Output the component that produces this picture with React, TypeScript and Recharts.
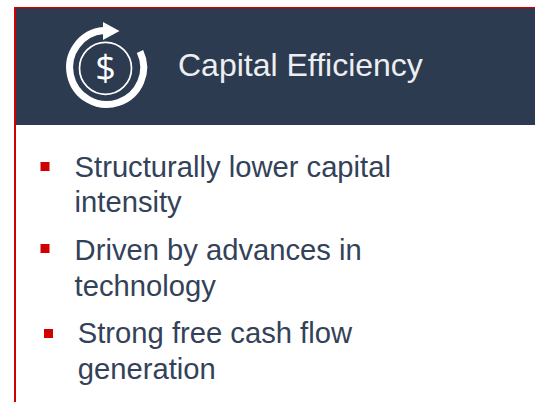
import React from "react";
import { Surface, Layer, Rectangle } from "recharts";

const titleText = "Capital Efficiency";
const iconGlyph = "$";
const bulletLines: string[][] = [
  ["Structurally lower capital", "intensity"],
  ["Driven by advances in", "technology"],
  ["Strong free cash flow", "generation"],
];

const NAVY = "#2c3b50";
const RED = "#d00000";
const INK = "#334258";
const FONT = "'Liberation Sans', Arial, sans-serif";

const bulletLayout = [
  { sq: [40.5, 162], tx: 74.6, base: [177, 212] },
  { sq: [40.5, 244], tx: 74.6, base: [260, 296] },
  { sq: [44, 329], tx: 77.8, base: [343, 379] },
];

export default function App() {
  return (
    <div style={{ position: "absolute", left: 0, top: 0, width: 535, height: 402, background: "#fff" }}>
      <Surface width={535} height={402} viewBox={{ x: 0, y: 0, width: 535, height: 402 }}>
        <Layer>
          <Rectangle x={15} y={8} width={520} height={117} fill={NAVY} />
          <Rectangle x={14} y={7} width={521} height={1.2} fill={RED} />
          <Rectangle x={14} y={7} width={2} height={395} fill={RED} />
        </Layer>
        <Layer>
          <path d="M 140 51.5 A 37 37 0 1 1 103.5 30.6" fill="none" stroke="#fff" strokeWidth={7} />
          <polygon points="103,22 119.5,31 103,40" fill="#fff" />
          <circle cx={105.5} cy={68.3} r={26} fill="none" stroke="#fff" strokeWidth={1.7} />
          <text x={105.5} y={81} textAnchor="middle" fill="#fff" fontSize={36} fontFamily="'Open Sans', sans-serif" fontWeight={400} style={{ textRendering: "geometricPrecision" }}>
            {iconGlyph}
          </text>
        </Layer>
        <text x={178} y={76} fill="#eceef1" fontSize={32} fontFamily={FONT}>
          {titleText}
        </text>
        {bulletLines.map((lines, i) => (
          <Layer key={i}>
            <Rectangle x={bulletLayout[i].sq[0]} y={bulletLayout[i].sq[1]} width={9} height={9} fill={RED} />
            {lines.map((l, j) => (
              <text key={j} x={bulletLayout[i].tx} y={bulletLayout[i].base[j]} fill={INK} fontSize={29.2} fontFamily={FONT}>
                {l}
              </text>
            ))}
          </Layer>
        ))}
      </Surface>
    </div>
  );
}
